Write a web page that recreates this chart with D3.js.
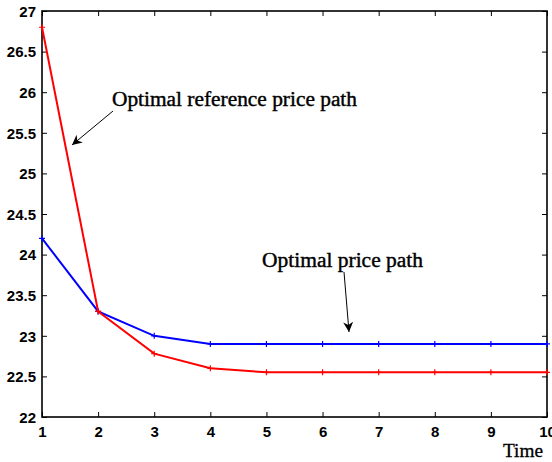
<!DOCTYPE html>
<html><head><meta charset="utf-8">
<script src="https://cdn.jsdelivr.net/npm/d3@7"></script>
<style>body{margin:0;background:#fff}</style>
</head><body>
<svg id="c" width="552" height="462"></svg>
<script>
const time = [1,2,3,4,5,6,7,8,9,10];
const referencePrice = [26.8,23.3,22.78,22.6,22.55,22.55,22.55,22.55,22.55,22.55];
const optimalPrice = [24.2,23.3,23.0,22.9,22.9,22.9,22.9,22.9,22.9,22.9];
const yTicks = [22,22.5,23,23.5,24,24.5,25,25.5,26,26.5,27];
const xTicks = [1,2,3,4,5,6,7,8,9,10];

const svg = d3.select('#c');
const L=42, R=547, T=11, B=417;
const x = d3.scaleLinear().domain([1,10]).range([L,R]);
const y = d3.scaleLinear().domain([22,27]).range([B,T]);

svg.append('rect').attr('x',L).attr('y',T).attr('width',R-L).attr('height',B-T)
  .attr('fill','none').attr('stroke','#000').attr('stroke-width',1.6);

const tickFont = '"Liberation Sans", Arial, sans-serif';
const ax = svg.append('g').attr('transform',`translate(0,${B})`)
  .call(d3.axisBottom(x).tickValues(xTicks).tickSize(-5).tickPadding(9).tickFormat(d3.format('d')));
const axT = svg.append('g').attr('transform',`translate(0,${T})`)
  .call(d3.axisTop(x).tickValues(xTicks).tickSize(-5).tickFormat(''));
const ay = svg.append('g').attr('transform',`translate(${L},0)`)
  .call(d3.axisLeft(y).tickValues(yTicks).tickSize(-5).tickPadding(6).tickFormat(d=>String(d)));
const ayR = svg.append('g').attr('transform',`translate(${R},0)`)
  .call(d3.axisRight(y).tickValues(yTicks).tickSize(-5).tickFormat(''));
[ax,axT,ay,ayR].forEach(g=>{
  g.select('.domain').remove();
  g.selectAll('.tick line').attr('stroke','#000').attr('stroke-width',1);
  g.selectAll('text').attr('font-family',tickFont).attr('font-weight','bold')
   .attr('font-size',15).attr('fill','#000');
});
ay.selectAll('text').attr('dy','0.35em');

const line = d3.line().x((d,i)=>x(time[i])).y(d=>y(d));
function series(vals,color){
  svg.append('path').datum(vals).attr('d',line).attr('fill','none')
    .attr('stroke',color).attr('stroke-width',2);
  svg.append('g').selectAll('path').data(vals).join('path')
    .attr('d',(d,i)=>{const px=x(time[i]),py=y(d);return `M${px-3},${py}H${px+3}M${px},${py-3}V${py+3}`;})
    .attr('stroke',color).attr('stroke-width',1.2);
}
series(optimalPrice,'#0000ff');
series(referencePrice,'#ff0000');

const serif = '"Liberation Serif", "DejaVu Serif", serif';
svg.append('defs').append('marker').attr('id','ah').attr('viewBox','0 0 10 10')
  .attr('refX',10).attr('refY',5).attr('markerWidth',10).attr('markerHeight',10)
  .attr('markerUnits','userSpaceOnUse').attr('orient','auto')
  .append('path').attr('d','M0,0L10,5L0,10L3,5Z').attr('fill','#000');

svg.append('text').attr('x',112).attr('y',106).text('Optimal reference price path')
  .attr('font-family',serif).attr('font-size',20).attr('stroke','#000').attr('stroke-width',0.4)
  .attr('textLength',245).attr('lengthAdjust','spacingAndGlyphs').attr('fill','#000');
svg.append('line').attr('x1',113).attr('y1',111).attr('x2',72).attr('y2',145)
  .attr('stroke','#000').attr('stroke-width',1).attr('marker-end','url(#ah)');

svg.append('text').attr('x',262).attr('y',267).text('Optimal price path')
  .attr('font-family',serif).attr('font-size',20).attr('stroke','#000').attr('stroke-width',0.4)
  .attr('textLength',161).attr('lengthAdjust','spacingAndGlyphs').attr('fill','#000');
svg.append('line').attr('x1',344).attr('y1',272).attr('x2',349).attr('y2',332)
  .attr('stroke','#000').attr('stroke-width',1).attr('marker-end','url(#ah)');

svg.append('text').attr('x',503).attr('y',457).text('Time')
  .attr('font-family',serif).attr('font-size',18).attr('stroke','#000').attr('stroke-width',0.3)
  .attr('textLength',40).attr('lengthAdjust','spacingAndGlyphs').attr('fill','#000');
</script>
</body></html>
